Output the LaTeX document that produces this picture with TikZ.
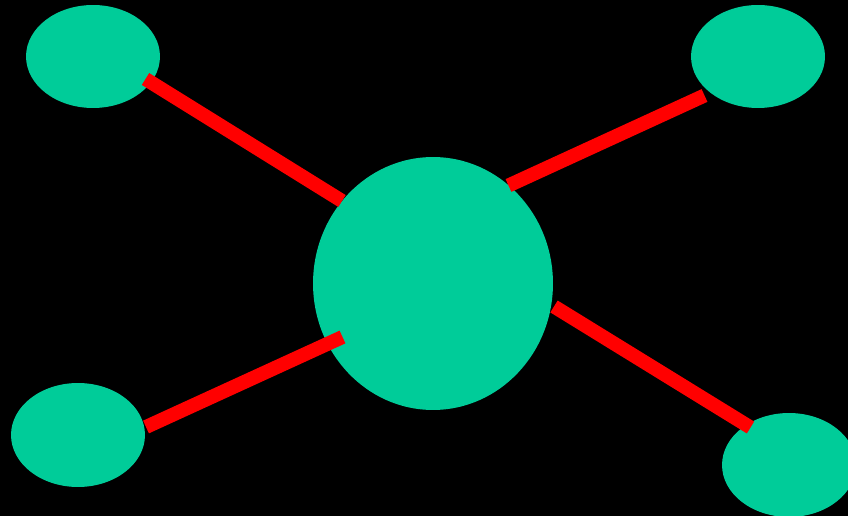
\documentclass[tikz,border=0pt]{standalone}
\usetikzlibrary{shapes.geometric}
\definecolor{blobgreen}{RGB}{0,204,153}
\definecolor{linkred}{RGB}{255,0,0}
\tikzset{
  blob/.style={ellipse, fill=blobgreen, draw=none, inner sep=0pt},
  smallblob/.style={blob, minimum width=2.68cm, minimum height=2.06cm},
  link/.style={draw=linkred, line width=0.28cm, line cap=butt}
}
\begin{document}
\begin{tikzpicture}[x=0.02cm,y=-0.02cm]
\useasboundingbox (0,0) rectangle (848,516);
\fill[black] (0,0) rectangle (848,516);
\clip (0,0) rectangle (848,516);
\node[blob, minimum width=4.8cm, minimum height=5.06cm] (hub) at (433,283.5) {};
\node[smallblob] (tl) at (93,56.5) {};
\node[smallblob] (tr) at (758,56.5) {};
\node[smallblob, minimum height=2.08cm] (bl) at (78,435) {};
\node[smallblob, minimum height=2.08cm] (br) at (789,465) {};
% connector end points
\coordinate (tlA) at (145.5,79);
\coordinate (tlB) at (342,201);
\coordinate (trA) at (704.5,95.5);
\coordinate (trB) at (508.5,185.5);
\coordinate (blA) at (146,427);
\coordinate (blB) at (342.5,337);
\coordinate (brA) at (750.5,427.5);
\coordinate (brB) at (554,306.5);
\draw[link] (tlA) -- (tlB);
\draw[link] (trA) -- (trB);
\draw[link] (blA) -- (blB);
\draw[link] (brA) -- (brB);
\end{tikzpicture}
\end{document}
